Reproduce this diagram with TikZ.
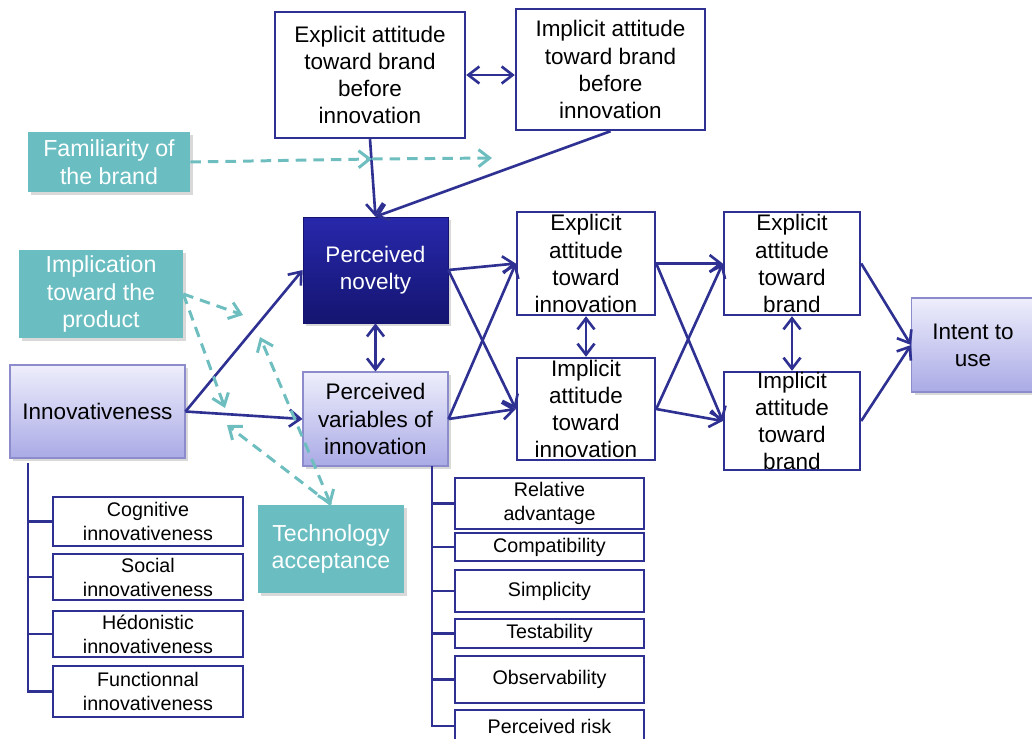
\documentclass[tikz,border=0pt]{standalone}
\usepackage{fontspec}
\setmainfont{Liberation Sans}
\usetikzlibrary{arrows.meta,positioning,shadows}
\definecolor{navyline}{RGB}{46,49,146}
\definecolor{tealbox}{RGB}{106,190,194}
\definecolor{tealline}{RGB}{110,190,192}
\definecolor{lilactop}{RGB}{238,238,252}
\definecolor{lilacbot}{RGB}{170,170,230}
\definecolor{lilacrim}{RGB}{140,140,205}
\definecolor{novtop}{RGB}{40,40,172}
\definecolor{novbot}{RGB}{20,20,112}
\newcommand{\mainsize}{\fontsize{12.8}{15.4}\selectfont}
\newcommand{\listsize}{\fontsize{11.2}{13.7}\selectfont}

\begin{document}
\begin{tikzpicture}[x=0.02cm,y=-0.02cm,>={Straight Barb[length=2.2mm,width=3.4mm]},
  box/.style={draw=navyline,line width=1.4pt,fill=white,align=center,inner sep=0pt,font=\mainsize},
  listbox/.style={box,font=\listsize,minimum width=3.8cm},
  tealnode/.style={fill=tealbox,text=white,align=center,inner sep=0pt,font=\fontsize{13.2}{15.8}\selectfont,
    drop shadow={opacity=0.3,shadow xshift=0.06cm,shadow yshift=-0.06cm}},
  lilac/.style={draw=lilacrim,line width=0.6pt,top color=lilactop,bottom color=lilacbot,align=center,inner sep=0pt,
    font=\mainsize,drop shadow={opacity=0.3,shadow xshift=0.06cm,shadow yshift=-0.06cm}},
  darkbox/.style={draw=novbot,top color=novtop,bottom color=novbot,text=white,align=center,inner sep=0pt,
    font=\mainsize,drop shadow={opacity=0.3,shadow xshift=0.06cm,shadow yshift=-0.06cm}},
  link/.style={navyline,line width=1.5pt},
  moder/.style={tealline,line width=1.7pt,dash pattern=on 6pt off 4pt}]

    \clip (0,0) rectangle (1032,738);

    % Brand before innovation
	\node [box,minimum width=3.8cm,minimum height=2.52cm] at (370,75) (ebb) {Explicit attitude\\toward brand\\before\\innovation};
	\node [box,minimum width=3.78cm,minimum height=2.42cm] at (610.5,69.5) (ibb) {Implicit attitude\\toward brand\\before\\innovation};

    % Moderators
	\node [tealnode,minimum width=3.24cm,minimum height=1.2cm] at (109,162) (fam) {Familiarity of\\the brand};
	\node [tealnode,minimum width=3.28cm,minimum height=1.76cm] at (101,294) (impl) {Implication\\toward the\\product};
	\node [tealnode,minimum width=2.92cm,minimum height=1.76cm] at (331,549) (tech) {Technology\\acceptance};

    % Main chain
	\node [darkbox,minimum width=2.9cm,minimum height=2.12cm] at (375.5,270) (pn) {Perceived\\novelty};
	\node [lilac,minimum width=3.5cm,minimum height=1.86cm] at (97.5,411.5) (innov) {Innovativeness};
	\node [lilac,minimum width=2.9cm,minimum height=1.88cm] at (375.5,419) (pv) {Perceived\\variables of\\innovation};
	\node [box,minimum width=2.76cm,minimum height=2.06cm] at (586,263.5) (eai) {Explicit\\attitude\\toward\\innovation};
	\node [box,minimum width=2.76cm,minimum height=2.04cm] at (586,409) (iai) {Implicit\\attitude\\toward\\innovation};
	\node [box,minimum width=2.72cm,minimum height=2.06cm] at (792,263.5) (eab) {Explicit\\attitude\\toward\\brand};
	\node [box,minimum width=2.72cm,minimum height=1.96cm] at (792,421) (iab) {Implicit\\attitude\\toward\\brand};
	\node [lilac,minimum width=2.46cm,minimum height=1.88cm] at (973,345) (intent) {Intent to\\use};

    % Kinds of innovativeness
	\node [listbox,minimum height=0.98cm] at (148,521.5) (cog) {Cognitive\\innovativeness};
	\node [listbox,minimum height=0.92cm] at (148,577) (soc) {Social\\innovativeness};
	\node [listbox,minimum height=0.92cm] at (148,634) (hed) {Hédonistic\\innovativeness};
	\node [listbox,minimum height=1.02cm] at (148,691.5) (fun) {Functionnal\\innovativeness};

    % Variables of innovation
	\node [listbox,minimum width=3.78cm,minimum height=1.02cm] at (549.5,503.5) (rel) {Relative\\advantage};
	\node [listbox,minimum width=3.78cm,minimum height=0.56cm] at (549.5,547) (comp) {Compatibility};
	\node [listbox,minimum width=3.78cm,minimum height=0.84cm] at (549.5,591) (simp) {Simplicity};
	\node [listbox,minimum width=3.78cm,minimum height=0.58cm] at (549.5,633.5) (test) {Testability};
	\node [listbox,minimum width=3.78cm,minimum height=0.94cm] at (549.5,679.5) (obs) {Observability};
	\node [listbox,minimum width=3.78cm,minimum height=0.64cm] at (549.5,726) (risk) {Perceived risk};

	\coordinate (lt) at (28,463);
	\coordinate (rt) at (432,466);
	\coordinate (famA) at (372,159);
	\coordinate (famB) at (492,158);
	\coordinate (implA) at (243,315);
	\coordinate (implB) at (225,408);
	\coordinate (techA) at (260,337);
	\coordinate (techB) at (227,425);

	% Graph edges
	\path[->,link]
	(ebb.south) edge (pn.north)
	(ibb.south) edge (pn.north)
	(innov.east) edge (pn.west)
	(innov.east) edge (pv.west)
	(pn.east) edge (eai.west)
	(pn.east) edge (iai.west)
	(pv.east) edge (eai.west)
	(pv.east) edge (iai.west)
	(eai.east) edge (eab.west)
	(eai.east) edge (iab.west)
	(iai.east) edge (eab.west)
	(iai.east) edge (iab.west)
	(eab.east) edge (intent.west)
	(iab.east) edge (intent.west);

	\path[<->,link]
	(ebb.east) edge (ebb.east -| ibb.west)
	(pn.south) edge (pv.north)
	(eai.south) edge (iai.north)
	(eab.south) edge (iab.north);

	% Moderating effects
	\path[->,moder]
	(fam.east) edge (famA)
	(famA) edge (famB)
	(impl.east) edge (implA)
	(impl.east) edge (implB)
	(tech.north) edge (techB);
	\path[<->,moder]
	(tech.north) edge (techA);

	% Lists
	\draw[link] (lt) |- (fun.west);
	\foreach \n in {cog,soc,hed}
	  \draw[link] (\n.west) -- (\n.west -| lt);
	\draw[link] (rt) |- (risk.west);
	\foreach \n in {rel,comp,simp,test,obs}
	  \draw[link] (\n.west) -- (\n.west -| rt);

\end{tikzpicture}
\end{document}
